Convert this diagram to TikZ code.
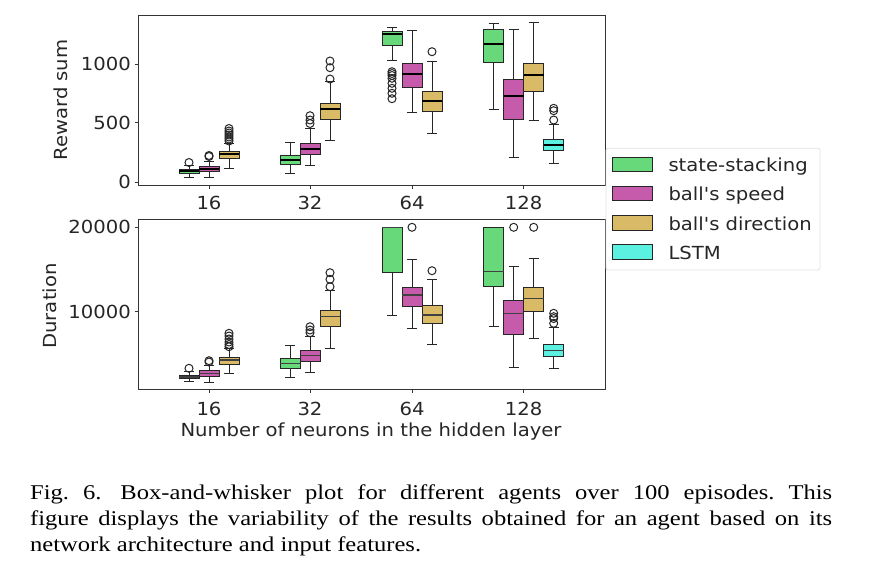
\documentclass[tikz,border=0pt]{standalone}
\usepackage{fontspec}
\setmainfont{Liberation Serif}[FakeStretch=1.17]
\newfontfamily\pf{DejaVu Sans}[FakeStretch=1.09]
\definecolor{cg}{HTML}{67D97B}
\definecolor{cm}{HTML}{C55BAA}
\definecolor{cd}{HTML}{D9BA67}
\definecolor{cc}{HTML}{5CF0E0}
\tikzset{
  axisframe/.style={draw=black!80, line width=0.9pt},
  whisk/.style={draw=black!85, line width=1pt},
  boxst/.style={draw=black!85, line width=1pt},
  medtop/.style={draw=black, line width=2.2pt},
  medbot/.style={draw=black!75, line width=1.3pt},
  outl/.style={draw=black!85, line width=1pt},
  tickst/.style={draw=black!80, line width=0.9pt},
  ticklab/.style={font=\pf\fontsize{18}{22}\selectfont, inner sep=0pt, text=black!85},
  legbox/.style={draw=black!12, fill=white, line width=0.8pt, rounded corners=2pt},
  legpatch/.style={draw=black!85, line width=1pt},
}
% x, wlo, q1, med, q3, whi, colour, median style
\newcommand{\bwp}[8]{%
  \draw[whisk] (#1,#2)--(#1,#3) (#1,#5)--(#1,#6) (#1-5,#2)--(#1+5,#2) (#1-5,#6)--(#1+5,#6);
  \draw[boxst, fill=#7] (#1-10,#3) rectangle (#1+10,#5);
  \draw[#8] (#1-10,#4)--(#1+10,#4);}
\newcommand{\outs}[2]{\foreach \oy in {#2} {\draw[outl] (#1,\oy) circle[radius=4pt];}}
\begin{document}
\begin{tikzpicture}[x=1pt,y=-1pt]
\useasboundingbox (0,0) rectangle (870,573);
% ---------------- top plot ----------------
\bwp{189}{177}{173.7}{171}{169}{165}{cg}{medtop}
\outs{189}{162.5}
\bwp{209}{177}{171.7}{169}{166.7}{161.7}{cm}{medtop}
\outs{209}{155.5,156.5}
\bwp{229}{168.3}{158.3}{154.3}{151}{143}{cd}{medtop}
\outs{229}{128.5,131,133,135,137,139,141}
\bwp{290}{173.3}{164}{160.3}{155.3}{142.3}{cg}{medtop}
\bwp{310}{165.7}{154}{148.7}{143.3}{128.3}{cm}{medtop}
\outs{310}{115.7,120,123.5}
\bwp{330}{140}{119.3}{109}{103.7}{81.7}{cd}{medtop}
\outs{330}{79,67.7,61}
\bwp{392}{60}{45.7}{34.3}{31.7}{27.3}{cg}{medtop}
\outs{392}{71.7,73.5,75.5,78.3,83.3,88.3,93.3,98.7}
\bwp{412}{112.7}{87.3}{74}{63}{30}{cm}{medtop}
\bwp{432}{133}{111.7}{100.7}{91}{61.7}{cd}{medtop}
\outs{432}{51.7}
\bwp{493.7}{109.3}{62}{44.3}{29.3}{23.3}{cg}{medtop}
\bwp{513.7}{157}{119.3}{95.7}{79.3}{29.3}{cm}{medtop}
\bwp{533.7}{120.7}{91}{75}{63.7}{22.3}{cd}{medtop}
\bwp{553.7}{163.3}{150.3}{145}{139}{124}{cc}{medtop}
\outs{553.7}{108.3,110.7,120}
\draw[axisframe] (138,15) rectangle (605,185);
\foreach \ty/\tl [count=\i] in {182.3/0,122.7/500,64/1000} {
  \draw[tickst] (134.5,\ty)--(138,\ty);
  \node[ticklab, anchor=east] (ty\i) at (131,\ty) {\tl};
}
\foreach \tx/\tl [count=\i] in {209/16,310/32,412/64,523.7/128} {
  \draw[tickst] (\tx,185)--(\tx,188.5);
  \node[ticklab, anchor=base] (tx\i) at (\tx,209.8) {\tl};
}
\node[ticklab, rotate=90] (ylab1) at (61,100) {Reward sum};
% ---------------- bottom plot ----------------
\bwp{189}{381}{378.7}{377}{375.3}{371.7}{cg}{medbot}
\outs{189}{368.3}
\bwp{209}{382.3}{376.7}{373.3}{370.3}{365.7}{cm}{medbot}
\outs{209}{360.7,362}
\bwp{229}{373.3}{364.3}{360}{357}{348.3}{cd}{medbot}
\outs{229}{333.3,336,339,342,344.5,346.7}
\bwp{290}{377.3}{368.3}{363.3}{358.7}{345}{cg}{medbot}
\bwp{310}{372.3}{361.3}{355.7}{350.3}{336.7}{cm}{medbot}
\outs{310}{326.7,330,332.7}
\bwp{330}{348.3}{326.7}{316.7}{310.3}{290.7}{cd}{medbot}
\outs{330}{272.7,279.3,286.7}
\bwp{392}{315.3}{272}{227.3}{227.3}{227.3}{cg}{medbot}
\bwp{412}{328.7}{306.7}{295}{287}{259.3}{cm}{medbot}
\outs{412}{227.3}
\bwp{432}{344}{323.7}{315}{305.3}{279}{cd}{medbot}
\outs{432}{270.7}
\bwp{493.7}{326.7}{286}{271.7}{227.3}{227.3}{cg}{medbot}
\bwp{513.7}{367.3}{334}{313.3}{300.7}{266.7}{cm}{medbot}
\outs{513.7}{227.3}
\bwp{533.7}{338}{311.7}{298.3}{287}{258.3}{cd}{medbot}
\outs{533.7}{227.3}
\bwp{553.7}{368.3}{356.7}{350.7}{344}{327.7}{cc}{medbot}
\outs{553.7}{313.3,316.7,318.5,323.3}
\draw[axisframe] (138,219) rectangle (605,389);
\foreach \ty/\tl [count=\i] in {311.7/10000,227.3/20000} {
  \draw[tickst] (134.5,\ty)--(138,\ty);
  \node[ticklab, anchor=east] (by\i) at (131,\ty) {\tl};
}
\foreach \tx/\tl [count=\i] in {209/16,310/32,412/64,523.7/128} {
  \draw[tickst] (\tx,389)--(\tx,392.5);
  \node[ticklab, anchor=base] (bx\i) at (\tx,415) {\tl};
}
\node[ticklab, rotate=90] (ylab2) at (50,306) {Duration};
\node[ticklab, anchor=base] (xlab) at (371,436.5) {Number of neurons in the hidden layer};
% ---------------- legend ----------------
\draw[legbox] (606,148.3) rectangle (820,270);
\foreach \c/\t [count=\i] in {cg/state-stacking,cm/ball's speed,cd/ball's direction,cc/LSTM} {
  \draw[legpatch, fill=\c] (612.3,{157.3+29.2*(\i-1)}) rectangle (652.3,{171.7+29.2*(\i-1)});
  \node[ticklab, anchor=base west] (leg\i) at (668.3,{171.7+29.2*(\i-1)}) {\t};
}
% ---------------- caption ----------------
\node[anchor=north west, inner sep=0pt, text width=802pt, align=justify,
      font=\fontsize{21}{26}\selectfont] (cap) at (30,484.4)
  {\frenchspacing Fig.~6.\hspace{0.9em}Box-and-whisker plot for different agents over 100 episodes. This\linebreak
   figure displays the variability of the results obtained for an agent based on its\linebreak
   network architecture and input features.};
\end{tikzpicture}
\end{document}
